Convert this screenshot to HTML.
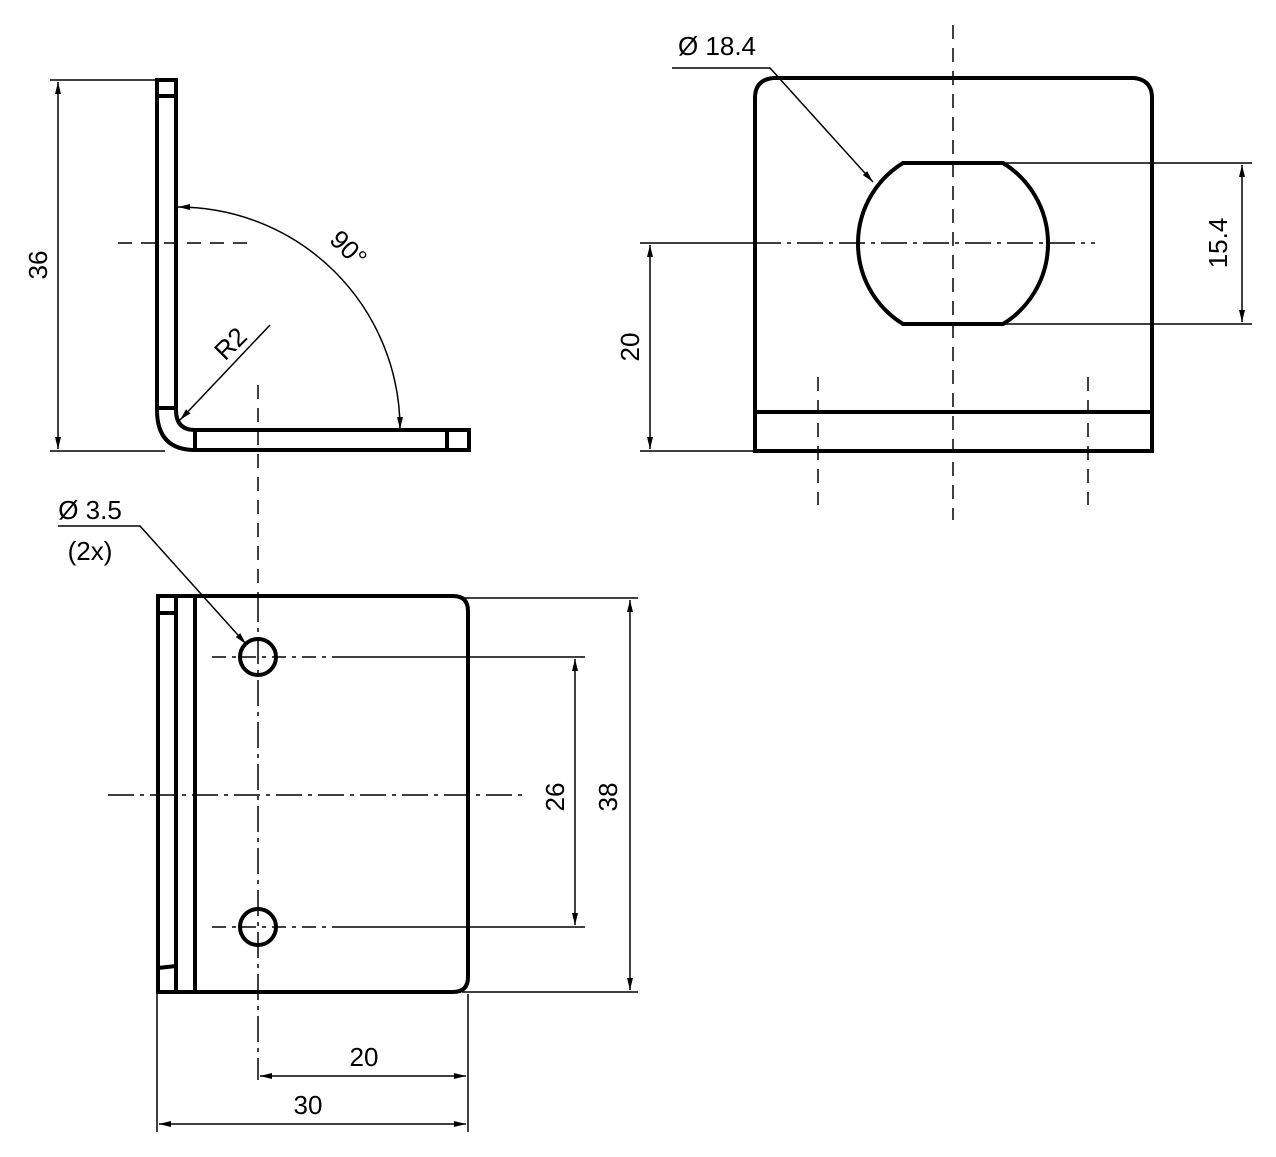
<!DOCTYPE html>
<html><head><meta charset="utf-8"><style>
html,body{margin:0;padding:0;background:#fff;}
svg{display:block;}
text{font-family:"Liberation Sans",sans-serif;font-size:26px;fill:#000;}
</style></head><body>
<svg width="1276" height="1157" viewBox="0 0 1276 1157" xmlns="http://www.w3.org/2000/svg">
<defs>
<marker id="a" viewBox="0 0 12 6" refX="12" refY="3" markerWidth="12" markerHeight="6" orient="auto-start-reverse" markerUnits="userSpaceOnUse"><path d="M0,0 L12,3 L0,6 z" fill="#000"/></marker>
</defs>
<g fill="none" stroke="#000">
<g stroke-width="4">
<path d="M157,80 H176 V410 Q176,430 195,430 H469 V450 H195 Q157,450 157,410 Z"/>
<line x1="157" y1="96" x2="176" y2="96"/>
<line x1="157" y1="408" x2="176" y2="408"/>
<line x1="195" y1="430" x2="195" y2="450"/>
<line x1="447" y1="430" x2="447" y2="450"/>
</g>
<g stroke-width="1.5">
<line x1="50" y1="80" x2="157" y2="80"/>
<line x1="50" y1="451" x2="165" y2="451"/>
<line x1="58" y1="82" x2="58" y2="449" marker-start="url(#a)" marker-end="url(#a)"/>
<line x1="118" y1="243" x2="250" y2="243" stroke-dasharray="14,9"/>
<line x1="258" y1="385" x2="258" y2="595" stroke-dasharray="14,9"/>
<path d="M178,207 A222,222 0 0 1 400,429" marker-start="url(#a)" marker-end="url(#a)"/>
<line x1="270" y1="325" x2="180" y2="420" marker-end="url(#a)"/>
</g>
<g stroke-width="4">
<path d="M158,596 H453 Q468,596 468,611 V977 Q468,992 453,992 H158 Z"/>
<line x1="176" y1="596" x2="176" y2="992"/>
<line x1="195" y1="596" x2="195" y2="992"/>
<line x1="158" y1="613" x2="176" y2="613"/>
<line x1="158" y1="968" x2="176" y2="966"/>
<circle cx="258" cy="657" r="18"/>
<circle cx="258" cy="927" r="18"/>
</g>
<g stroke-width="1.5">
<line x1="258" y1="596" x2="258" y2="1080" stroke-dasharray="26,6,4,6"/>
<line x1="108" y1="795" x2="525" y2="795" stroke-dasharray="26,6,4,6"/>
<line x1="212" y1="657" x2="340" y2="657" stroke-dasharray="14,6,4,6"/>
<line x1="340" y1="657" x2="585" y2="657"/>
<line x1="212" y1="927" x2="340" y2="927" stroke-dasharray="14,6,4,6"/>
<line x1="340" y1="927" x2="585" y2="927"/>
<line x1="575" y1="659" x2="575" y2="925" marker-start="url(#a)" marker-end="url(#a)"/>
<line x1="462" y1="598" x2="638" y2="598"/>
<line x1="462" y1="992" x2="638" y2="992"/>
<line x1="630" y1="600" x2="630" y2="990" marker-start="url(#a)" marker-end="url(#a)"/>
<line x1="468" y1="994" x2="468" y2="1132"/>
<line x1="157" y1="994" x2="157" y2="1132"/>
<line x1="260" y1="1076" x2="466" y2="1076" marker-start="url(#a)" marker-end="url(#a)"/>
<line x1="159" y1="1124" x2="466" y2="1124" marker-start="url(#a)" marker-end="url(#a)"/>
<polyline points="58,526 140,526 246,644" marker-end="url(#a)"/>
</g>
<g stroke-width="4">
<path d="M755,451 V98 Q755,80 773,78 H1134 Q1152,80 1152,98 V451 Z"/>
<line x1="755" y1="412" x2="1152" y2="412"/>
<path d="M903,163 H1003 A94.5,94.5 0 0 1 1003,324 H903 A94.5,94.5 0 0 1 903,163 Z"/>
</g>
<g stroke-width="1.5">
<line x1="953" y1="25" x2="953" y2="520" stroke-dasharray="14,9"/>
<line x1="818" y1="377" x2="818" y2="505" stroke-dasharray="14,9"/>
<line x1="1088" y1="377" x2="1088" y2="505" stroke-dasharray="14,9"/>
<line x1="755" y1="243" x2="1095" y2="243" stroke-dasharray="26,6,4,6"/>
<line x1="640" y1="243" x2="755" y2="243"/>
<line x1="640" y1="451" x2="755" y2="451"/>
<line x1="650" y1="245" x2="650" y2="449" marker-start="url(#a)" marker-end="url(#a)"/>
<line x1="1003" y1="163" x2="1252" y2="163"/>
<line x1="1003" y1="324" x2="1252" y2="324"/>
<line x1="1242" y1="165" x2="1242" y2="322" marker-start="url(#a)" marker-end="url(#a)"/>
<polyline points="672,68 770,68 873,182" marker-end="url(#a)"/>
</g>
</g>
<text x="0" y="0" transform="translate(40,265) rotate(-90)" text-anchor="middle" dominant-baseline="middle">36</text>
<text x="0" y="0" transform="translate(347,250) rotate(45)" text-anchor="middle" dominant-baseline="middle">90°</text>
<text x="0" y="0" transform="translate(232,345) rotate(-45)" text-anchor="middle" dominant-baseline="middle">R2</text>
<text x="90" y="519" text-anchor="middle">Ø 3.5</text>
<text x="90" y="560" text-anchor="middle">(2x)</text>
<text x="0" y="0" transform="translate(557,797) rotate(-90)" text-anchor="middle" dominant-baseline="middle">26</text>
<text x="0" y="0" transform="translate(610,797) rotate(-90)" text-anchor="middle" dominant-baseline="middle">38</text>
<text x="364" y="1066" text-anchor="middle">20</text>
<text x="308" y="1114" text-anchor="middle">30</text>
<text x="717" y="55" text-anchor="middle">Ø 18.4</text>
<text x="0" y="0" transform="translate(632,347) rotate(-90)" text-anchor="middle" dominant-baseline="middle">20</text>
<text x="0" y="0" transform="translate(1220,243) rotate(-90)" text-anchor="middle" dominant-baseline="middle">15.4</text>
</svg>
</body></html>
